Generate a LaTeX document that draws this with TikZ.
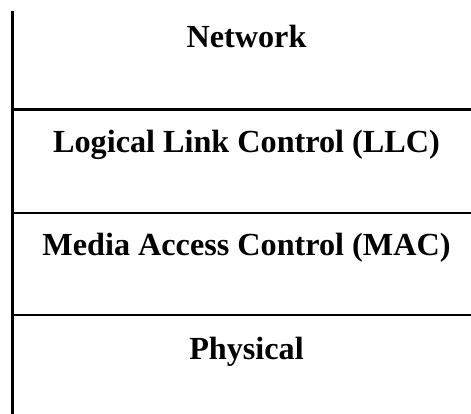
\documentclass[tikz,border=0pt]{standalone}
\usepackage{fontspec}
\setmainfont{Liberation Serif}
\tikzset{
  layertext/.style={anchor=base, inner sep=0pt, font=\bfseries\fontsize{32.2}{38}\selectfont},
  rule/.style={line width=2.5pt, line cap=butt}
}
\begin{document}
\begin{tikzpicture}[x=1pt,y=-1pt]
\useasboundingbox (0,0) rectangle (471,414);
\coordinate (vtop) at (12.5,11);
\coordinate (vbot) at (12.5,414);
\draw[rule] (vtop) -- (vbot);
\coordinate (l1a) at (11.25,109.5); \coordinate (l1b) at (471,109.5);
\coordinate (l2a) at (11.25,213);   \coordinate (l2b) at (471,213);
\coordinate (l3a) at (11.25,315);   \coordinate (l3b) at (471,315);
\draw[rule] (l1a) -- (l1b);
\draw[rule] (l2a) -- (l2b);
\draw[rule] (l3a) -- (l3b);
\node[layertext] (net) at (246.5,48) {Network};
\node[layertext] (llc) at (246.5,153) {Logical Link Control (LLC)};
\node[layertext] (mac) at (246.5,255) {Media Access Control (MAC)};
\node[layertext] (phy) at (246.5,359) {Physical};
\end{tikzpicture}
\end{document}
